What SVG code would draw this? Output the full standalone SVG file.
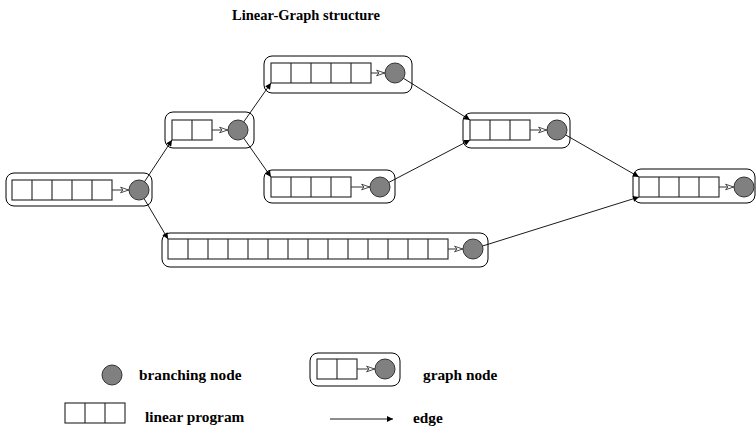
<svg xmlns="http://www.w3.org/2000/svg" width="756" height="430" viewBox="0 0 756 430">
<defs>
<style>
.frame{fill:none;stroke:#000;stroke-width:1}
.cells{fill:#fff;stroke:#222;stroke-width:1.1}
.bn{fill:#808080;stroke:#333;stroke-width:1}
.edge{fill:none;stroke:#000;stroke-width:0.9;marker-end:url(#ah)}
.ie{fill:none;stroke:#333;stroke-width:1;marker-end:url(#hol)}
.t{font-family:"Liberation Serif","Times New Roman",serif;font-weight:bold;fill:#000}
</style>
<marker id="ah" viewBox="0 0 10 10" refX="10" refY="5" markerWidth="9" markerHeight="6" markerUnits="userSpaceOnUse" orient="auto">
<path d="M0,0 L10,5 L0,10 z" fill="#000"/>
</marker>
<marker id="hol" viewBox="0 0 12 10" refX="11.5" refY="5" markerWidth="11" markerHeight="8" markerUnits="userSpaceOnUse" orient="auto">
<path d="M1,1.5 L11,5 L1,8.5 L4,5 z" fill="#fff" stroke="#333" stroke-width="1.1"/>
</marker>
</defs>
<rect width="756" height="430" fill="#fff"/>
<text class="t" x="306" y="20" font-size="14.5" text-anchor="middle">Linear-Graph structure</text>

<g id="connectors">
<line class="edge" x1="139" y1="190" x2="172" y2="140"/>
<line class="edge" x1="139" y1="190" x2="168" y2="239"/>
<line class="edge" x1="238" y1="130" x2="271" y2="83"/>
<line class="edge" x1="238" y1="130" x2="271" y2="177"/>
<line class="edge" x1="395" y1="73" x2="470" y2="120"/>
<line class="edge" x1="380" y1="187" x2="470" y2="140"/>
<line class="edge" x1="557" y1="130" x2="639" y2="177"/>
<line class="edge" x1="473" y1="249" x2="639" y2="197"/>
</g>

<g id="nodeA">
<rect class="frame" x="6" y="173" width="146" height="33" rx="8"/>
<rect class="cells" x="12" y="180" width="100" height="20"/>
<path class="cells" d="M32,180v20M52,180v20M72,180v20M92,180v20"/>
<line class="ie" x1="112" y1="190" x2="129" y2="190"/>
<circle class="bn" cx="139" cy="190" r="10"/>
</g>

<g id="nodeB">
<rect class="frame" x="165" y="112" width="89" height="36" rx="8"/>
<rect class="cells" x="172" y="120" width="40" height="20"/>
<path class="cells" d="M192,120v20"/>
<line class="ie" x1="212" y1="130" x2="228" y2="130"/>
<circle class="bn" cx="238" cy="130" r="10"/>
</g>

<g id="nodeC">
<rect class="frame" x="264" y="56" width="148" height="37" rx="8"/>
<rect class="cells" x="271" y="63" width="100" height="20"/>
<path class="cells" d="M291,63v20M311,63v20M331,63v20M351,63v20"/>
<line class="ie" x1="371" y1="73" x2="385" y2="73"/>
<circle class="bn" cx="395" cy="73" r="10"/>
</g>

<g id="nodeD">
<rect class="frame" x="264" y="170" width="131" height="33" rx="8"/>
<rect class="cells" x="271" y="177" width="80" height="20"/>
<path class="cells" d="M291,177v20M311,177v20M331,177v20"/>
<line class="ie" x1="351" y1="187" x2="370" y2="187"/>
<circle class="bn" cx="380" cy="187" r="10"/>
</g>

<g id="nodeE">
<rect class="frame" x="463" y="113" width="107" height="35" rx="8"/>
<rect class="cells" x="470" y="120" width="60" height="20"/>
<path class="cells" d="M490,120v20M510,120v20"/>
<line class="ie" x1="530" y1="130" x2="547" y2="130"/>
<circle class="bn" cx="557" cy="130" r="10"/>
</g>

<g id="nodeF">
<rect class="frame" x="633" y="169" width="122" height="34" rx="8"/>
<rect class="cells" x="639" y="177" width="80" height="20"/>
<path class="cells" d="M659,177v20M679,177v20M699,177v20"/>
<line class="ie" x1="719" y1="187" x2="734" y2="187"/>
<circle class="bn" cx="744" cy="187" r="10"/>
</g>

<g id="nodeG">
<rect class="frame" x="162" y="233" width="326" height="34" rx="8"/>
<rect class="cells" x="168" y="239" width="280" height="20"/>
<path class="cells" d="M188,239v20M208,239v20M228,239v20M248,239v20M268,239v20M288,239v20M308,239v20M328,239v20M348,239v20M368,239v20M388,239v20M408,239v20M428,239v20"/>
<line class="ie" x1="448" y1="249" x2="463" y2="249"/>
<circle class="bn" cx="473" cy="249" r="10"/>
</g>

<g id="legend">
<circle class="bn" cx="112" cy="375" r="10"/>
<text class="t" x="139" y="380" font-size="15.3">branching node</text>
<rect class="frame" x="310" y="353" width="90" height="33" rx="8"/>
<rect class="cells" x="317" y="359" width="40" height="20"/>
<path class="cells" d="M337,359v20"/>
<line class="ie" x1="357" y1="369" x2="375" y2="369"/>
<circle class="bn" cx="385" cy="369" r="10"/>
<text class="t" x="423" y="380" font-size="15.3">graph node</text>
<rect class="cells" x="65" y="403" width="60" height="20"/>
<path class="cells" d="M85,403v20M105,403v20"/>
<text class="t" x="145" y="422" font-size="15.3">linear program</text>
<line class="edge" x1="330" y1="419" x2="393" y2="419"/>
<text class="t" x="413" y="423" font-size="15.3">edge</text>
</g>
</svg>
